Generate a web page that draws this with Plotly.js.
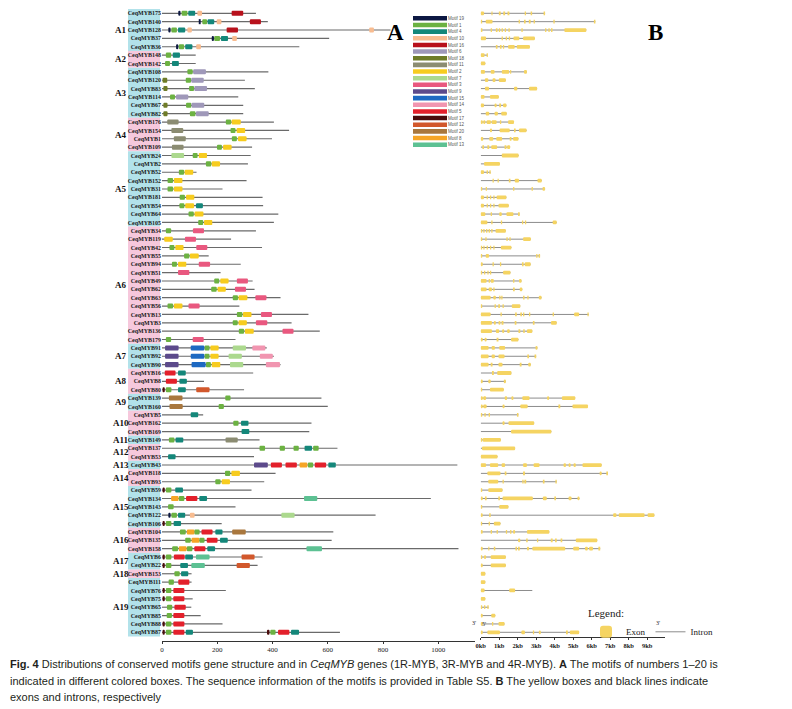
<!DOCTYPE html>
<html><head><meta charset="utf-8">
<script src="https://cdn.plot.ly/plotly-3.0.1.min.js"></script>
<style>html,body{margin:0;padding:0;background:#fff;} #chart{width:792px;height:709px;}</style>
</head><body><div id="chart"></div>
<script>
// ---------------- DATA ----------------
const genes = ['CeqMYB175','CeqMYB140','CeqMYB128','CeqMYB37','CeqMYB36','CeqMYB148','CeqMYB142','CeqMYB108','CeqMYB120','CeqMYB83','CeqMYB114','CeqMYB67','CeqMYB82','CeqMYB176','CeqMYB154','CeqMYB1','CeqMYB109','CeqMYB24','CeqMYB2','CeqMYB52','CeqMYB152','CeqMYB31','CeqMYB181','CeqMYB54','CeqMYB64','CeqMYB105','CeqMYB34','CeqMYB119','CeqMYB42','CeqMYB55','CeqMYB94','CeqMYB51','CeqMYB49','CeqMYB62','CeqMYB63','CeqMYB56','CeqMYB13','CeqMYB3','CeqMYB136','CeqMYB179','CeqMYB91','CeqMYB92','CeqMYB90','CeqMYB16','CeqMYB8','CeqMYB80','CeqMYB139','CeqMYB160','CeqMYB5','CeqMYB162','CeqMYB169','CeqMYB149','CeqMYB137','CeqMYB53','CeqMYB43','CeqMYB118','CeqMYB93','CeqMYB59','CeqMYB134','CeqMYB143','CeqMYB122','CeqMYB106','CeqMYB104','CeqMYB135','CeqMYB158','CeqMYB6','CeqMYB22','CeqMYB153','CeqMYB111','CeqMYB76','CeqMYB75','CeqMYB65','CeqMYB85','CeqMYB88','CeqMYB87'];

const groupNames = ['A1','A2','A3','A4','A5','A6','A7','A8','A9','A10','A11','A12','A13','A14','A15','A16','A17','A18','A19'];
const groupSizes = [5,2,6,4,9,14,3,3,2,3,1,2,1,2,5,3,2,1,7];

// protein length (aa)
const proteinLength = [340,383,827,605,497,122,122,385,300,336,276,294,294,405,460,398,326,321,311,125,306,219,364,366,421,405,340,250,362,169,285,212,328,335,429,280,530,469,571,266,379,405,429,330,152,297,577,600,149,541,533,353,635,333,1069,411,370,324,973,266,773,216,620,614,1073,364,346,107,107,231,111,106,140,219,644];

// motif hits per gene: [motif, start, end] (aa)
const motifHits = [
 [[19,59,67],[1,71,92],[4,95,120],[10,128,145],[16,252,294]],
 [[19,133,140],[1,146,163],[4,165,189],[10,198,215],[16,318,358]],
 [[19,23,31],[1,34,54],[4,58,84],[10,92,108],[16,234,275],[10,750,767]],
 [[19,180,188],[1,189,210],[4,213,239],[10,254,271]],
 [[19,51,59],[1,61,80],[4,84,110],[10,124,141]],
 [[1,14,33],[4,39,65]],
 [[1,11,29],[4,36,61]],
 [[1,92,111],[6,113,159]],
 [[18,2,19],[1,86,105],[6,106,151]],
 [[18,5,20],[1,98,116],[6,117,163]],
 [[1,29,47],[6,51,95]],
 [[18,5,20],[1,87,106],[6,107,153]],
 [[18,5,20],[1,101,121],[6,123,169]],
 [[11,19,60],[1,231,250],[2,252,285]],
 [[11,34,77],[1,248,266],[2,270,301]],
 [[11,43,86],[1,253,271],[2,275,306]],
 [[11,36,78],[1,199,217],[2,221,252]],
 [[7,34,80],[1,111,129],[2,133,163]],
 [[1,159,178],[2,180,210]],
 [[1,61,80],[2,82,113]],
 [[1,20,40],[2,43,74]],
 [[1,20,40],[2,43,74]],
 [[1,64,83],[2,87,117]],
 [[1,63,81],[2,84,116],[4,123,148]],
 [[1,96,115],[2,118,150]],
 [[1,131,149],[2,152,182]],
 [[1,14,33],[3,112,152]],
 [[2,8,39],[3,83,123]],
 [[1,27,45],[2,48,78],[3,124,164]],
 [[1,80,99],[2,101,133]],
 [[1,36,54],[2,58,88],[3,133,174]],
 [[3,58,99]],
 [[1,189,207],[2,211,241],[3,271,311]],
 [[1,178,198],[2,201,231],[3,264,304]],
 [[1,256,275],[2,277,309],[3,338,378]],
 [[1,20,40],[2,43,74],[3,96,136]],
 [[1,271,291],[2,293,324],[3,358,398]],
 [[1,256,274],[2,277,307],[3,340,381]],
 [[1,278,297],[2,300,332],[3,436,476]],
 [[1,14,33],[3,111,151]],
 [[9,11,60],[15,104,153],[1,154,172],[2,175,205],[7,256,304],[14,327,374]],
 [[9,11,60],[15,104,153],[1,154,172],[2,175,205],[7,241,289],[14,354,401]],
 [[9,11,60],[15,107,158],[1,159,177],[2,180,211],[7,246,294],[14,376,427]],
 [[5,10,49],[4,58,86]],
 [[5,14,54],[4,63,90]],
 [[17,2,10],[1,14,34],[4,58,86],[12,124,172]],
 [[20,25,74],[1,229,248]],
 [[20,27,75],[1,205,224]],
 [[4,104,131]],
 [[1,258,277],[4,286,313]],
 [[4,288,316]],
 [[1,25,45],[4,49,77],[11,230,274]],
 [[1,353,373],[1,426,445],[1,476,495],[4,516,543],[1,547,567]],
 [[4,22,49]],
 [[9,333,383],[5,394,434],[5,447,488],[8,498,526],[1,528,547],[5,553,594],[4,602,629]],
 [[1,228,247],[2,251,282]],
 [[1,193,212],[2,216,246]],
 [[17,2,10],[1,14,34],[4,48,76]],
 [[8,33,60],[1,61,81],[5,87,128],[4,135,163],[13,514,562]],
 [[1,22,42]],
 [[19,23,31],[1,34,54],[4,58,84],[10,101,118],[7,432,480]],
 [[17,2,10],[1,14,34],[4,42,69]],
 [[1,65,86],[8,90,117],[1,117,136],[5,143,183],[4,193,219],[20,254,303]],
 [[1,84,104],[8,107,135],[1,135,154],[5,162,201],[4,210,238]],
 [[1,37,58],[8,61,89],[1,90,110],[5,117,157],[4,164,192],[13,523,579]],
 [[17,2,10],[1,14,34],[5,43,82],[4,84,112],[13,123,172],[12,288,335]],
 [[17,2,10],[1,14,34],[4,66,94],[13,106,155],[12,270,318]],
 [[1,45,64],[4,69,95]],
 [[1,24,43],[5,59,99]],
 [[17,2,10],[1,14,34],[5,41,81]],
 [[17,2,10],[1,14,34],[5,41,81]],
 [[1,18,37],[5,45,86]],
 [[1,17,36],[5,41,81]],
 [[17,2,10],[1,14,34],[5,41,81]],
 [[17,2,10],[1,14,34],[5,41,81],[4,86,112],[17,380,389],[1,392,411],[5,420,461],[4,467,496]]
];

// gene length (kb)
const geneLengthKb = [3.48,6.2,5.71,2.93,2.66,0.39,0.25,2.5,1.36,3.05,0.98,1.39,1.41,1.8,2.48,2.04,1.59,2.05,1.04,0.54,3.3,3.48,1.39,1.52,2.11,4.11,1.36,2.71,1.66,3.21,2.7,1.61,2.21,2.25,3.29,2.14,5.84,4.11,2.79,2.04,3.07,3.0,2.71,1.66,1.36,1.25,5.11,5.8,2.04,2.89,3.82,1.09,1.86,0.91,6.54,6.88,4.11,1.18,5.34,1.5,9.39,1.07,3.71,6.3,6.46,1.36,1.36,0.25,0.25,2.79,0.25,0.43,0.79,1.29,5.32];

// exons per gene: [start, end] (kb)
const exons = [
 [[0,0.18],[0.58,0.64],[0.98,1.08],[1.22,1.32],[1.45,1.55],[2.38,2.45],[2.7,2.78],[3.4,3.48]],
 [[0,0.08],[0.27,0.64],[2.05,2.12],[2.34,2.43],[2.6,2.7],[2.86,2.93],[3.93,4.0],[6.12,6.2]],
 [[0,0.09],[0.54,0.61],[0.82,0.91],[0.98,1.05],[1.13,1.2],[1.3,1.37],[1.5,1.57],[2.2,2.27],[3.48,3.55],[3.66,3.73],[3.8,3.88],[4.52,5.71]],
 [[0,0.29],[1.13,1.2],[1.35,1.42],[1.52,1.59],[1.77,2.09],[2.29,2.93]],
 [[0.82,0.91],[1.04,1.13],[1.2,1.27],[1.48,1.84],[1.95,2.66]],
 [[0,0.21],[0.32,0.39]],
 [[0,0.25]],
 [[0,0.23],[0.54,0.75],[1.14,1.54],[1.59,1.65],[2.34,2.5]],
 [[0.23,0.41],[0.64,0.8],[0.98,1.36]],
 [[0.23,0.45],[1.8,1.98],[2.61,3.05]],
 [[0,0.21],[0.5,0.98]],
 [[0,0.18],[0.75,0.86],[1.0,1.1],[1.21,1.39]],
 [[0.27,0.46],[0.75,0.93],[1.11,1.41]],
 [[0,0.11],[0.14,0.25],[0.32,0.55],[0.59,0.86],[1.04,1.11],[1.48,1.8]],
 [[0.5,0.61],[1.02,1.57],[1.8,1.89],[2.07,2.48]],
 [[0,0.14],[0.46,0.68],[0.84,1.16],[1.57,1.66],[1.75,2.04]],
 [[0.09,0.18],[0.36,0.46],[0.57,0.89],[1.29,1.39],[1.43,1.59]],
 [[1.14,2.05]],
 [[0.18,1.04]],
 [[0,0.18],[0.32,0.39],[0.47,0.54]],
 [[0.64,0.71],[0.91,0.98],[1.52,1.61],[1.84,2.07],[3.07,3.3]],
 [[0,0.08],[0.27,0.34],[1.75,1.82],[2.75,2.82],[3.34,3.48]],
 [[0,0.18],[0.32,0.39],[0.5,0.57],[0.68,0.75],[0.86,1.39]],
 [[0,0.18],[0.32,0.39],[0.5,0.57],[0.68,0.75],[0.96,1.52]],
 [[0,0.25],[0.54,0.61],[1.0,1.14],[1.39,1.77],[2.02,2.11]],
 [[0,0.36],[0.57,0.64],[1.09,1.16],[2.23,2.3],[2.39,2.46],[3.89,4.11]],
 [[0,0.08],[0.14,0.21],[0.29,0.36],[0.43,0.5],[0.57,0.64],[0.8,1.36]],
 [[0,0.08],[0.25,0.32],[1.39,1.46],[1.55,1.62],[2.29,2.71]],
 [[0,0.08],[0.14,0.21],[0.32,0.39],[0.5,0.57],[0.68,0.75],[1.09,1.66]],
 [[0,0.08],[0.27,0.45],[3.0,3.07],[3.13,3.21]],
 [[0,0.11],[0.64,0.71],[1.04,1.11],[2.23,2.32],[2.38,2.7]],
 [[0,0.08],[0.18,0.25],[0.36,0.43],[0.5,0.57],[1.21,1.61]],
 [[0,0.32],[0.43,0.5],[0.54,0.71],[1.75,1.82],[2.07,2.21]],
 [[0,0.32],[0.43,0.61],[0.68,0.75],[1.75,1.84],[2.11,2.25]],
 [[0,0.54],[0.68,0.82],[1.0,1.07],[1.11,1.18],[2.29,2.37],[2.52,2.59],[3.14,3.29]],
 [[0,0.08],[0.75,0.82],[0.95,1.04],[1.18,1.25],[1.68,2.14]],
 [[0,0.54],[1.07,1.14],[1.86,1.95],[2.14,2.23],[2.29,2.36],[2.61,2.68],[3.89,3.96],[5.05,5.32],[5.77,5.84]],
 [[0,0.61],[0.71,0.82],[0.96,1.07],[1.13,1.23],[1.84,1.93],[2.82,2.91],[3.8,4.11]],
 [[0,0.61],[0.82,1.0],[1.16,1.27],[1.43,1.57],[2.04,2.14],[2.3,2.38],[2.5,2.79]],
 [[0,0.11],[0.21,0.32],[0.86,0.96],[1.64,2.04]],
 [[0,0.43],[0.59,0.77],[1.0,1.32],[2.96,3.07]],
 [[0,0.43],[0.59,0.77],[0.96,1.29],[2.52,2.61],[2.91,3.0]],
 [[0,0.43],[0.54,0.64],[0.96,1.18],[2.11,2.21],[2.57,2.71]],
 [[0.61,0.71],[0.89,1.66]],
 [[0,0.11],[0.41,0.54],[1.25,1.36]],
 [[0,0.08],[0.5,1.25]],
 [[0,0.11],[0.14,0.29],[1.3,1.43],[1.66,1.77],[2.25,2.64],[3.59,3.7],[4.39,5.11]],
 [[0,0.11],[0.14,0.32],[1.18,1.29],[2.14,2.54],[4.2,4.3],[4.96,5.8]],
 [[0,0.08],[0.2,0.27],[0.43,0.5],[1.96,2.04]],
 [[1.18,1.29],[1.5,2.89]],
 [[1.64,3.82]],
 [[0,0.08],[0.11,1.09]],
 [[0.07,1.86]],
 [[0,0.91]],
 [[0,0.29],[0.5,0.95],[1.13,1.32],[2.29,2.5],[2.86,3.18],[4.48,4.61],[4.75,4.86],[5.02,5.14],[5.5,6.54]],
 [[0.36,1.07],[1.3,1.39],[2.29,2.39],[6.43,6.54],[6.79,6.88]],
 [[0.41,0.95],[1.18,1.25],[2.25,2.32],[2.36,2.46],[3.36,3.45],[4.04,4.11]],
 [[0,0.08],[0.41,1.18]],
 [[0,0.11],[0.23,0.32],[0.95,1.04],[1.18,2.82],[3.36,3.57],[3.98,4.07],[4.75,4.91],[5.23,5.34]],
 [[0,0.08],[1.0,1.5]],
 [[0,0.11],[0.46,0.54],[7.16,7.34],[7.46,8.86],[9.02,9.39]],
 [[0,0.08],[0.43,0.5],[0.71,1.07]],
 [[0,0.11],[0.54,0.61],[0.86,0.93],[1.36,1.43],[1.59,1.66],[1.75,1.86],[2.5,3.71]],
 [[2.02,2.14],[2.46,2.54],[3.04,3.11],[3.79,3.89],[4.02,4.11],[4.32,4.41],[5.14,6.3]],
 [[0,0.11],[0.41,0.47],[0.71,0.79],[1.88,1.96],[2.02,2.11],[2.5,2.61],[2.79,4.57],[5.0,5.32],[5.64,5.79],[5.86,6.07],[6.36,6.46]],
 [[0,0.08],[0.18,0.29],[0.54,1.36]],
 [[0,0.11],[0.54,1.36]],
 [[0,0.25]],
 [[0,0.25]],
 [[0,0.21],[1.54,1.86]],
 [[0,0.25]],
 [[0,0.08],[0.18,0.25],[0.36,0.43]],
 [[0,0.11],[0.57,0.79]],
 [[0,0.11],[0.61,0.68],[0.96,1.29]],
 [[0,0.11],[0.36,1.04],[2.2,2.39],[2.82,2.89],[3.14,3.25],[4.61,4.71],[4.82,5.32]]
];

const motifLegendOrder = [19,1,4,10,16,6,18,11,2,7,3,9,15,14,5,17,12,20,8,13];
const captionLines = [
 '<b>Fig. 4</b> Distributions of conserved motifs gene structure and in <i>CeqMYB</i> genes (1R-MYB, 3R-MYB and 4R-MYB). <b>A</b> The motifs of numbers 1–20 is',
 'indicated in different colored boxes. The sequence information of the motifs is provided in Table S5. <b>B</b> The yellow boxes and black lines indicate',
 'exons and introns, respectively'
];

// ---------------- STYLE ----------------
const motifColors = {19:'#0c1842',1:'#6cb242',4:'#14877a',10:'#f8bc90',16:'#b8111c',6:'#9f98b9',18:'#6f7c28',11:'#8b8c72',2:'#f7cc1f',7:'#acd98e',3:'#e9587f',9:'#5c4a8b',15:'#1d69c2',14:'#f195b0',5:'#e3202b',17:'#4a0b0b',12:'#d2582c',20:'#a9773d',8:'#f6a526',13:'#5dc193'};
const W = 792, H = 709;
const px = x => x / W, py = y => 1 - y / H;
const serif = 'Liberation Serif';

// geometry
const rowTop = 13.3, rowStep = 8.365, yTopPx = 5, yBotPx = 641;
const yRange = [(yBotPx - rowTop) / rowStep, (yTopPx - rowTop) / rowStep];
const aaX0 = 162, aaScale = 0.2763, aaX1 = 475;
const kbX0 = 480.7, kbScale = 18.5, kbMax = 9.95;

const rows = genes.map((_, i) => i);
const traces = [];

// gene backbone lines (left)
traces.push({type:'bar', orientation:'h', y: rows, x: proteinLength, base: 0, width: 0.14,
  marker:{color:'#6a6a6a', line:{width:0}}, xaxis:'x', yaxis:'y', showlegend:false, hoverinfo:'skip'});

// motif boxes
motifLegendOrder.forEach(m => {
  const y = [], base = [], x = [];
  motifHits.forEach((hits, i) => hits.forEach(([mm, s, e]) => {
    if (mm === m) { y.push(i); base.push(s); x.push(e - s); }
  }));
  traces.push({type:'bar', orientation:'h', y, base, x, width: 0.6,
    marker:{color: motifColors[m], cornerradius: 1.5, line:{width:0}},
    xaxis:'x', yaxis:'y', showlegend:false, hoverinfo:'skip'});
});

// introns (right)
const ix = [], iy = [];
geneLengthKb.forEach((L, i) => { ix.push(0, L, null); iy.push(i, i, null); });
traces.push({type:'scatter', mode:'lines', x: ix, y: iy, xaxis:'x2', yaxis:'y2',
  line:{color:'#8c8c8c', width:1}, name:'Intron', legendrank:2, hoverinfo:'skip'});

// exons
const ey = [], eb = [], ex = [];
exons.forEach((list, i) => list.forEach(([s, e]) => { ey.push(i); eb.push(s); ex.push(e - s); }));
traces.push({type:'bar', orientation:'h', y: ey, base: eb, x: ex, width: 0.45, xaxis:'x3', yaxis:'y3',
  marker:{color:'#f5d462', cornerradius: 2, line:{width:0}}, name:'Exon', legendrank:1, hoverinfo:'skip'});

// motif legend swatches
traces.push({type:'bar', orientation:'h', y: motifLegendOrder.map(m => 'Motif ' + m),
  x: motifLegendOrder.map(() => 1), base: 0, width: 0.68,
  marker:{color: motifLegendOrder.map(m => motifColors[m]), line:{width:0}},
  xaxis:'x5', yaxis:'y5', showlegend:false, hoverinfo:'skip'});

// group shading + labels
const shapes = [], annotations = [];
let start = 0;
groupNames.forEach((g, k) => {
  const n = groupSizes[k], end = start + n - 1;
  shapes.push({type:'rect', xref:'paper', yref:'y', x0: px(128), x1: px(160), y0: start - 0.5, y1: end + 0.5,
    fillcolor: k % 2 === 0 ? '#b2e2ea' : '#f6c8dc', line:{width:0}, layer:'below'});
  annotations.push({xref:'paper', yref:'y', x: px(120.5), y: (start + end) / 2, text: '<b>' + g + '</b>',
    showarrow:false, xanchor:'center', yanchor:'middle', font:{family: serif, size: 9, color:'#111'}});
  start += n;
});

// panel letters
annotations.push({xref:'paper', yref:'paper', x: px(395), y: py(18), text:'<b>A</b>', showarrow:false,
  font:{family: serif, size: 23, color:'#000'}});
annotations.push({xref:'paper', yref:'paper', x: px(665), y: py(18), text:'<b>B</b>', showarrow:false,
  font:{family: serif, size: 23, color:'#000'}});
// 5'/3' marks
[[474,628,"3'"],[484,629,"5'"],[662,628,"3'"]].forEach(([x,y,t]) => annotations.push({xref:'paper', yref:'paper',
  x: px(x), y: py(y), text: t, showarrow:false, font:{family: serif, size: 6, color:'#222'}}));
// caption
[664, 681, 697].forEach((y, i) => annotations.push({xref:'paper', yref:'paper', x: px(8), y: py(y),
  xanchor:'left', yanchor:'middle', text: captionLines[i], showarrow:false, align:'left',
  font:{family:'Liberation Sans', size: 11, color:'#231f20'}}));

const layout = {
  width: W, height: H, margin:{l:0, r:0, t:0, b:0}, paper_bgcolor:'#fff', plot_bgcolor:'rgba(0,0,0,0)',
  barmode:'overlay', shapes, annotations,
  xaxis:{domain:[px(aaX0), px(aaX1)], range:[0, (aaX1 - aaX0) / aaScale], anchor:'y',
    tickvals:[0,200,400,600,800,1000], showgrid:false, zeroline:false, showline:true, linecolor:'#333', linewidth:1,
    ticks:'outside', ticklen:2, tickcolor:'#333', tickfont:{family: serif, size: 7, color:'#222'}},
  yaxis:{domain:[py(yBotPx), py(yTopPx)], range: yRange, anchor:'x', tickmode:'array', tickvals: rows, ticktext: genes,
    showgrid:false, zeroline:false, showline:false, ticks:'',
    tickfont:{family: serif, size: 6, color:'#1a1a1a', weight:'bold'}},
  xaxis2:{domain:[px(kbX0), px(kbX0 + kbMax * kbScale)], range:[0, kbMax], anchor:'free', position: py(637),
    dtick:1, tick0:0, ticksuffix:'kb', showgrid:false, zeroline:false, showline:true, linecolor:'#333', linewidth:1,
    ticks:'outside', ticklen:2, tickcolor:'#333', tickfont:{family: serif, size: 6.5, color:'#222', weight:'bold'}},
  yaxis2:{domain:[py(yBotPx), py(yTopPx)], range: yRange, anchor:'x2', visible:false},
  xaxis3:{overlaying:'x2', range:[0, kbMax], anchor:'y3', visible:false},
  yaxis3:{overlaying:'y2', range: yRange, anchor:'x3', visible:false},
  xaxis5:{domain:[px(413), px(447)], range:[0,1], anchor:'y5', visible:false},
  yaxis5:{domain:[py(148), py(15)], anchor:'x5', type:'category', categoryorder:'array',
    categoryarray: motifLegendOrder.map(m => 'Motif ' + m), autorange:'reversed', side:'right',
    showgrid:false, zeroline:false, showline:false, ticks:'', tickfont:{family:'Liberation Sans', size: 4.5, color:'#555'}},
  showlegend:true,
  legend:{x: px(586), y: py(603), xanchor:'left', yanchor:'top', orientation:'h', bgcolor:'rgba(0,0,0,0)',
    title:{text:'Legend:', side:'top', font:{family: serif, size: 11, color:'#222'}},
    font:{family: serif, size: 9, color:'#222'}, itemwidth: 30, tracegroupgap: 0}
};

Plotly.newPlot('chart', traces, layout, {displayModeBar:false, staticPlot:true});
</script>
</body></html>
